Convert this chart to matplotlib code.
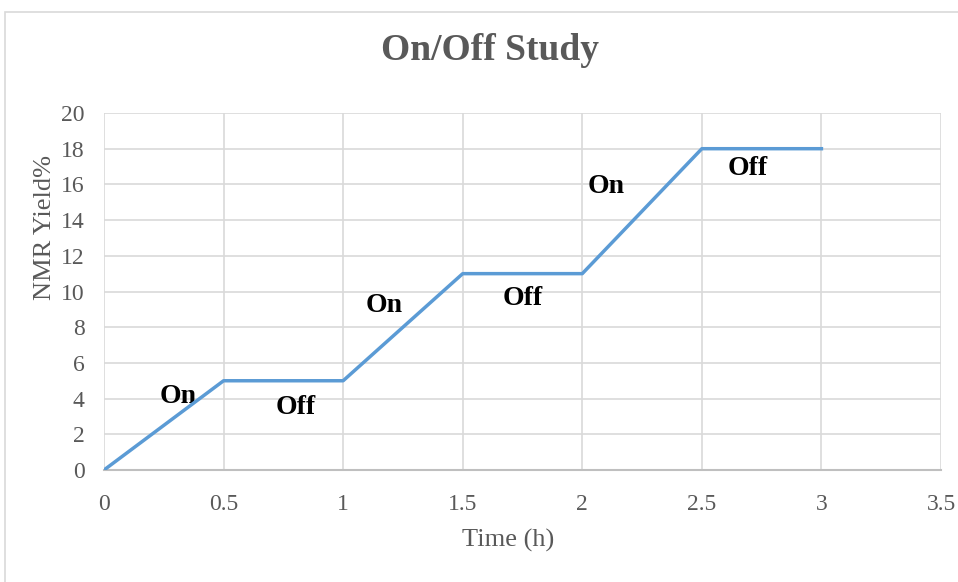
import matplotlib.pyplot as plt
from matplotlib.patches import Rectangle

# time points (h) and NMR yield (%)
time_h = [0, 0.5, 1, 1.5, 2, 2.5, 3]
yield_pct = [0, 5, 5, 11, 11, 18, 18]

# light on/off phase labels
phase_text = ["On", "Off", "On", "Off", "On", "Off"]
phase_x = [0.31, 0.80, 1.17, 1.75, 2.10, 2.69]
phase_y = [4.1, 3.5, 9.2, 9.6, 15.9, 16.9]

xticks = [0, 0.5, 1, 1.5, 2, 2.5, 3, 3.5]
yticks = list(range(0, 21, 2))

plt.rcParams['font.family'] = ['Liberation Serif', 'DejaVu Serif']
gray = "#595959"

fig = plt.figure(figsize=(9.58, 5.82), dpi=100)
fig.patches.append(Rectangle((5/958, -0.1), 1.2, 1 - 12/582 + 0.1,
                             transform=fig.transFigure, fill=False,
                             edgecolor="#D9D9D9", linewidth=1.2))

ax = fig.add_axes([104/958, 1 - 470/582, 837/958, 357/582])
ax.plot(time_h, yield_pct, color="#5B9BD5", linewidth=2.5, zorder=4)

for t, x, y in zip(phase_text, phase_x, phase_y):
    ax.text(x, y, t, fontsize=20, fontweight="bold", color="black",
            ha="center", va="center", zorder=3)

ax.set_xlim(0, 3.5)
ax.set_ylim(0, 20)
ax.set_xticks(xticks)
ax.set_xticklabels([f"{v:g}" for v in xticks])
ax.set_yticks(yticks)
ax.grid(True, color="#D9D9D9", linewidth=1.2)
ax.set_axisbelow(True)
for side in ["top", "right", "left"]:
    ax.spines[side].set_visible(False)
ax.spines["bottom"].set_color("#BFBFBF")
ax.spines["bottom"].set_linewidth(1.5)
ax.tick_params(length=0, labelsize=17, colors=gray)
ax.tick_params(axis="x", pad=17)
ax.tick_params(axis="y", pad=14)

ax.set_xlabel("Time (h)", fontsize=19, color=gray, va="center")
ax.xaxis.set_label_coords((508 - 104) / 837, (470 - 540) / 357)
ax.set_ylabel("NMR Yield%", fontsize=19, color=gray, va="center")
ax.yaxis.set_label_coords((45 - 104) / 837, (470 - 228) / 357)

fig.text(490/958, 1 - 60/582, "On/Off Study", fontsize=27, fontweight="bold",
         color=gray, ha="center", va="baseline")

fig.savefig("out.png", dpi=100)
